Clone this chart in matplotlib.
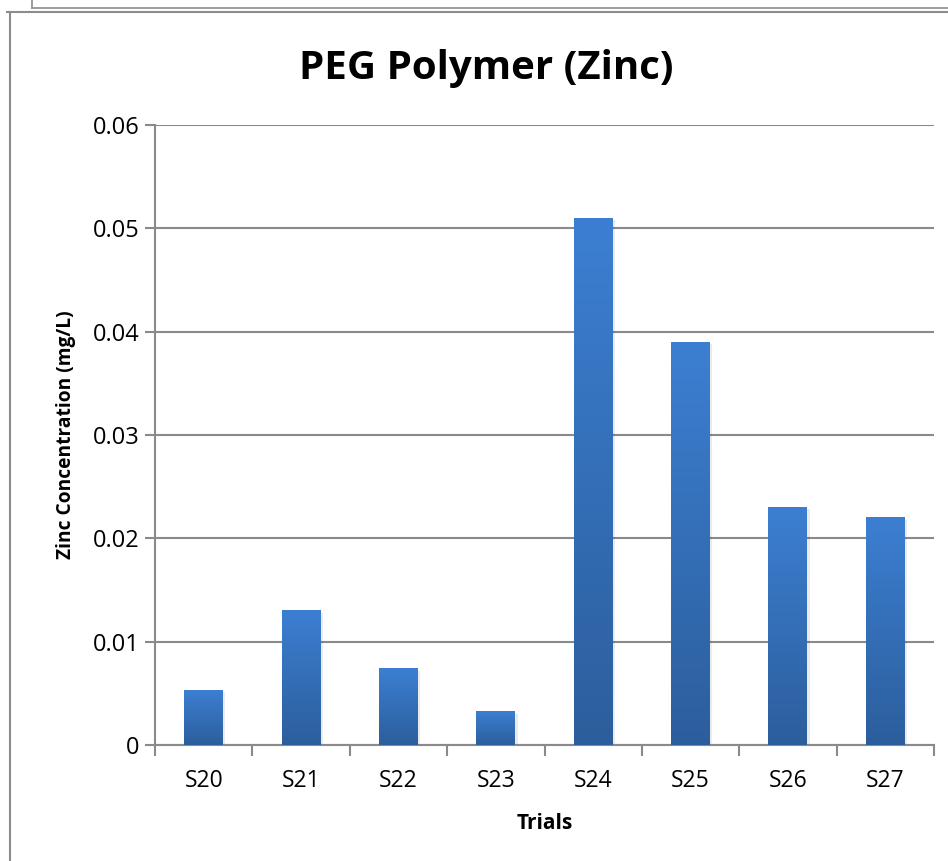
import matplotlib
matplotlib.use("Agg")
import matplotlib.pyplot as plt
import numpy as np
from matplotlib.lines import Line2D
from matplotlib.colors import LinearSegmentedColormap

categories = ["S20", "S21", "S22", "S23", "S24", "S25", "S26", "S27"]
values = [0.0053, 0.013, 0.0074, 0.0032, 0.051, 0.039, 0.023, 0.022]
yticks = [0, 0.01, 0.02, 0.03, 0.04, 0.05, 0.06]
ytick_labels = ["0", "0.01", "0.02", "0.03", "0.04", "0.05", "0.06"]

plt.rcParams['font.family'] = ['Open Sans', 'DejaVu Sans']

W, H = 948, 861
fig = plt.figure(figsize=(W / 100, H / 100), dpi=100)
ax = fig.add_axes([155 / W, 1 - 745 / H, (934 - 155) / W, (745 - 125) / H])

grid_c = "#8a8a8a"
x = np.arange(len(categories))
bars = ax.bar(x, values, width=0.4, color="none", edgecolor="none", zorder=3)

cmap = LinearSegmentedColormap.from_list("g", ["#2c5e9c", "#3c7fd2"])
grad = np.linspace(0, 1, 256).reshape(-1, 1)
for b in bars:
    x0, w, h = b.get_x(), b.get_width(), b.get_height()
    # soft shadow
    ax.add_patch(plt.Rectangle((x0 + 0.012, 0), w + 0.012, h - 0.0002,
                               color="#000000", alpha=0.08, zorder=2, lw=0))
    ax.imshow(grad, extent=(x0, x0 + w, 0, h), origin="lower", cmap=cmap,
              aspect="auto", zorder=3, interpolation="bicubic")

ax.set_xlim(-0.5, len(categories) - 0.5)
ax.set_ylim(0, 0.06)
ax.set_yticks(yticks)
ax.set_yticklabels(ytick_labels, fontsize=17)
ax.set_xticks(x)
ax.set_xticklabels(categories, fontsize=16.5)
ax.tick_params(axis="x", length=0, pad=17)
ax.set_xticks(np.arange(-0.5, len(categories)), minor=True)
ax.tick_params(axis="x", which="minor", length=8, width=1.5, color=grid_c, direction="out")
ax.tick_params(axis="y", length=7, width=1.5, color=grid_c, direction="out", pad=4)

ax.yaxis.grid(True, color=grid_c, linewidth=1.5, zorder=1)
ax.set_axisbelow(True)
for s in ["top", "right"]:
    ax.spines[s].set_visible(False)
for s in ["left", "bottom"]:
    ax.spines[s].set_color(grid_c)
    ax.spines[s].set_linewidth(1.5)

ax.set_xlabel("Trials", fontsize=15, fontweight="bold", labelpad=15)
ax.set_ylabel("Zinc Concentration (mg/L)", fontsize=13.8, fontweight="bold", labelpad=12)
fig.text(486 / W, 1 - 68 / H, "PEG Polymer (Zinc)", fontsize=29, fontweight="bold",
         ha="center", va="center")

# frame lines
fc = "#8c8c8c"
fig.add_artist(Line2D([32 / W, 32 / W], [1, 1 - 8 / H], color=fc, lw=1.2, transform=fig.transFigure))
fig.add_artist(Line2D([32 / W, 1], [1 - 8 / H, 1 - 8 / H], color=fc, lw=1.2, transform=fig.transFigure))
fig.add_artist(Line2D([7 / W, 1], [1 - 12 / H, 1 - 12 / H], color=fc, lw=1.5, transform=fig.transFigure))
fig.add_artist(Line2D([10 / W, 10 / W], [1 - 12 / H, 0], color=fc, lw=1.5, transform=fig.transFigure))

fig.savefig("out.png", dpi=100)
